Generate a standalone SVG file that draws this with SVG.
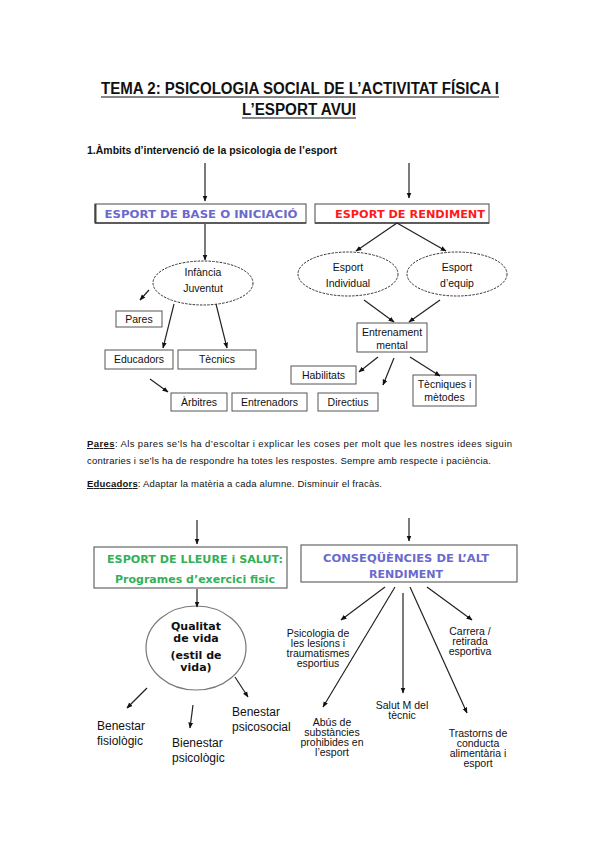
<svg xmlns="http://www.w3.org/2000/svg" width="599" height="848" viewBox="0 0 599 848">
<defs>
<marker id="ah" viewBox="0 0 10 10" refX="9" refY="5" markerWidth="6" markerHeight="6" orient="auto" markerUnits="userSpaceOnUse"><path d="M0,1 L10,5 L0,9 z" fill="#111"/></marker>
</defs>
<style>
.ttl{font-family:"Liberation Sans",Arial,sans-serif;font-weight:bold;font-size:16px;fill:#111}
.h{font-family:"Liberation Sans",Arial,sans-serif;font-weight:bold;font-size:10.5px;fill:#111}
.p{font-family:"Liberation Sans",Arial,sans-serif;font-size:9.5px;fill:#111}
.bx{fill:#fff;stroke:#555;stroke-width:1}
.big{fill:#fff;stroke:#666;stroke-width:1.2}
.el{fill:#fff;stroke:#333;stroke-width:1;stroke-dasharray:2.5,1.2}
.s{font-family:"Liberation Sans",Arial,sans-serif;font-size:10.5px;fill:#111;text-anchor:middle}
.m{font-family:"Liberation Sans",Arial,sans-serif;font-size:10.5px;fill:#111;text-anchor:middle}
.l{font-family:"Liberation Sans",Arial,sans-serif;font-size:12px;fill:#111}
.v{font-family:"DejaVu Sans",Verdana,sans-serif;font-weight:bold;text-anchor:middle}
.c line{stroke:#222;stroke-width:1.2;marker-end:url(#ah)}
</style>
<rect width="599" height="848" fill="#fff"/>

<g id="title">
<text class="ttl" x="101" y="94" textLength="398" lengthAdjust="spacingAndGlyphs">TEMA 2: PSICOLOGIA SOCIAL DE L’ACTIVITAT FÍSICA I</text>
<line x1="101" y1="97" x2="499" y2="97" stroke="#111" stroke-width="1.2"/>
<text class="ttl" x="242" y="115" textLength="114" lengthAdjust="spacingAndGlyphs">L’ESPORT AVUI</text>
<line x1="242" y1="118" x2="356" y2="118" stroke="#111" stroke-width="1.2"/>
<text class="h" x="87" y="154" textLength="250" lengthAdjust="spacingAndGlyphs">1.Àmbits d’intervenció de la psicologia de l’esport</text>
</g>

<g id="base">
<rect class="big" x="95" y="204" width="211" height="19"/>
<line x1="95.5" y1="204" x2="95.5" y2="223" stroke="#444" stroke-width="2"/>
<line x1="95" y1="223" x2="306" y2="223" stroke="#444" stroke-width="1.5"/>
<text class="v" x="201" y="218" font-size="11" fill="#6a6acd" textLength="193" lengthAdjust="spacingAndGlyphs">ESPORT DE BASE O INICIACIÓ</text>
</g>
<g id="rendiment">
<rect class="big" x="315" y="204" width="174" height="19"/>
<line x1="315" y1="223" x2="489" y2="223" stroke="#444" stroke-width="1.5"/>
<text class="v" x="410" y="218" font-size="11" fill="#ff1a1a" textLength="150" lengthAdjust="spacingAndGlyphs">ESPORT DE RENDIMENT</text>
</g>

<g id="infancia">
<ellipse class="el" cx="203" cy="283" rx="50" ry="22"/>
<text class="s" x="203" y="276">Infància</text>
<text class="s" x="203" y="292">Juventut</text>
</g>
<g id="individual">
<ellipse class="el" cx="348" cy="274" rx="50" ry="22"/>
<text class="s" x="348" y="271">Esport</text>
<text class="s" x="348" y="287">Individual</text>
</g>
<g id="equip">
<ellipse class="el" cx="457" cy="274" rx="50" ry="22"/>
<text class="s" x="457" y="271">Esport</text>
<text class="s" x="457" y="287">d’equip</text>
</g>

<g id="pares"><rect class="bx" x="116" y="311" width="46" height="16"/><text class="s" x="139" y="323">Pares</text></g>
<g id="educadors"><rect class="bx" x="105" y="350" width="68" height="19"/><text class="s" x="139" y="363">Educadors</text></g>
<g id="tecnics"><rect class="bx" x="178" y="350" width="78" height="19"/><text class="s" x="217" y="363">Tècnics</text></g>
<g id="arbitres"><rect class="bx" x="171" y="393" width="56" height="18"/><text class="s" x="199" y="406">Àrbitres</text></g>
<g id="entrenadors"><rect class="bx" x="232" y="393" width="75" height="18"/><text class="s" x="269.5" y="406">Entrenadors</text></g>
<g id="directius"><rect class="bx" x="318" y="393" width="60" height="18"/><text class="s" x="348" y="406">Directius</text></g>
<g id="entrenament"><rect class="bx" x="357" y="323" width="70" height="29"/><text class="s" x="392" y="336">Entrenament</text><text class="s" x="392" y="349">mental</text></g>
<g id="habilitats"><rect class="bx" x="291" y="366" width="65" height="18"/><text class="s" x="323.5" y="379">Habilitats</text></g>
<g id="tecniques"><rect class="bx" x="413" y="375" width="63" height="31"/><text class="s" x="444.5" y="388">Tècniques i</text><text class="s" x="444.5" y="401">mètodes</text></g>

<g id="text">
<text class="p" x="87" y="447" textLength="425" lengthAdjust="spacing"><tspan text-decoration="underline" font-weight="bold">Pares</tspan>: Als pares se’ls ha d’escoltar i explicar les coses per molt que les nostres idees siguin</text>
<text class="p" x="87" y="464" textLength="404" lengthAdjust="spacing">contraries i se’ls ha de respondre ha totes les respostes. Sempre amb respecte i paciència.</text>
<text class="p" x="87" y="487" textLength="295" lengthAdjust="spacing"><tspan text-decoration="underline" font-weight="bold">Educadors</tspan>: Adaptar la matèria a cada alumne. Disminuir el fracàs.</text>
</g>

<g id="lleure">
<rect class="big" x="94" y="547" width="193" height="41"/>
<text class="v" x="195" y="563" font-size="11" fill="#33b057" textLength="176" lengthAdjust="spacingAndGlyphs">ESPORT DE LLEURE i SALUT:</text>
<text class="v" x="195" y="583" font-size="11" fill="#33b057" textLength="160" lengthAdjust="spacingAndGlyphs">Programes  d’exercici fisic</text>
</g>
<g id="consequencies">
<rect class="big" x="301" y="545" width="216" height="37"/>
<text class="v" x="406" y="562" font-size="11" fill="#6a6acd" textLength="166" lengthAdjust="spacingAndGlyphs">CONSEQÜÈNCIES DE L’ALT</text>
<text class="v" x="406" y="578" font-size="11" fill="#6a6acd" textLength="74" lengthAdjust="spacingAndGlyphs">RENDIMENT</text>
</g>
<g id="qualitat">
<ellipse cx="196" cy="648" rx="50" ry="42" fill="#fff" stroke="#777" stroke-width="1.2"/>
<text class="v" x="196" y="630" font-size="11" fill="#111">Qualitat</text>
<text class="v" x="196" y="642" font-size="11" fill="#111">de vida</text>
<text class="v" x="196" y="659" font-size="11" fill="#111">(estil de</text>
<text class="v" x="196" y="671" font-size="11" fill="#111">vida)</text>
</g>
<g id="fisiologic"><text class="l" x="97" y="730">Benestar</text><text class="l" x="97" y="745">fisiològic</text></g>
<g id="psicologic"><text class="l" x="172" y="747">Bienestar</text><text class="l" x="172" y="762">psicològic</text></g>
<g id="psicosocial"><text class="l" x="232" y="716">Benestar</text><text class="l" x="232" y="731">psicosocial</text></g>
<g id="lesions"><text class="m" x="318" y="637">Psicologia de</text><text class="m" x="318" y="647">les lesions i</text><text class="m" x="318" y="657">traumatismes</text><text class="m" x="318" y="667">esportius</text></g>
<g id="carrera"><text class="m" x="470" y="635">Carrera /</text><text class="m" x="470" y="645">retirada</text><text class="m" x="470" y="655">esportiva</text></g>
<g id="salut"><text class="m" x="402" y="709">Salut M del</text><text class="m" x="402" y="719">tècnic</text></g>
<g id="abus"><text class="m" x="332" y="726">Abús de</text><text class="m" x="332" y="736">substàncies</text><text class="m" x="332" y="746">prohibides en</text><text class="m" x="332" y="756">l’esport</text></g>
<g id="trastorns"><text class="m" x="478" y="737">Trastorns de</text><text class="m" x="478" y="747">conducta</text><text class="m" x="478" y="757">alimentària i</text><text class="m" x="478" y="767">esport</text></g>

<g id="connectors" class="c">
<line x1="205" y1="163" x2="205" y2="201"/>
<line x1="409" y1="163" x2="409" y2="198"/>
<line x1="205" y1="224" x2="205" y2="260"/>
<line x1="397" y1="223" x2="356" y2="251"/>
<line x1="397" y1="223" x2="446" y2="251"/>
<line x1="149" y1="290" x2="140" y2="300"/>
<line x1="174" y1="304" x2="163" y2="348"/>
<line x1="216" y1="304" x2="227" y2="348"/>
<line x1="150" y1="379" x2="168" y2="392"/>
<line x1="364" y1="300" x2="394" y2="322"/>
<line x1="440" y1="300" x2="409" y2="322"/>
<line x1="378" y1="357" x2="359" y2="372"/>
<line x1="394" y1="358" x2="383" y2="385"/>
<line x1="410" y1="357" x2="440" y2="376"/>
<line x1="197" y1="520" x2="197" y2="544"/>
<line x1="409" y1="518" x2="409" y2="541"/>
<line x1="197" y1="589" x2="197" y2="607"/>
<line x1="147" y1="688" x2="127" y2="708"/>
<line x1="193" y1="705" x2="190" y2="728"/>
<line x1="235" y1="677" x2="248" y2="697"/>
<line x1="385" y1="587" x2="341" y2="620"/>
<line x1="395" y1="587" x2="323" y2="707"/>
<line x1="403" y1="593" x2="403" y2="693"/>
<line x1="410" y1="587" x2="467" y2="713"/>
<line x1="427" y1="587" x2="472" y2="620"/>
</g>
</svg>
